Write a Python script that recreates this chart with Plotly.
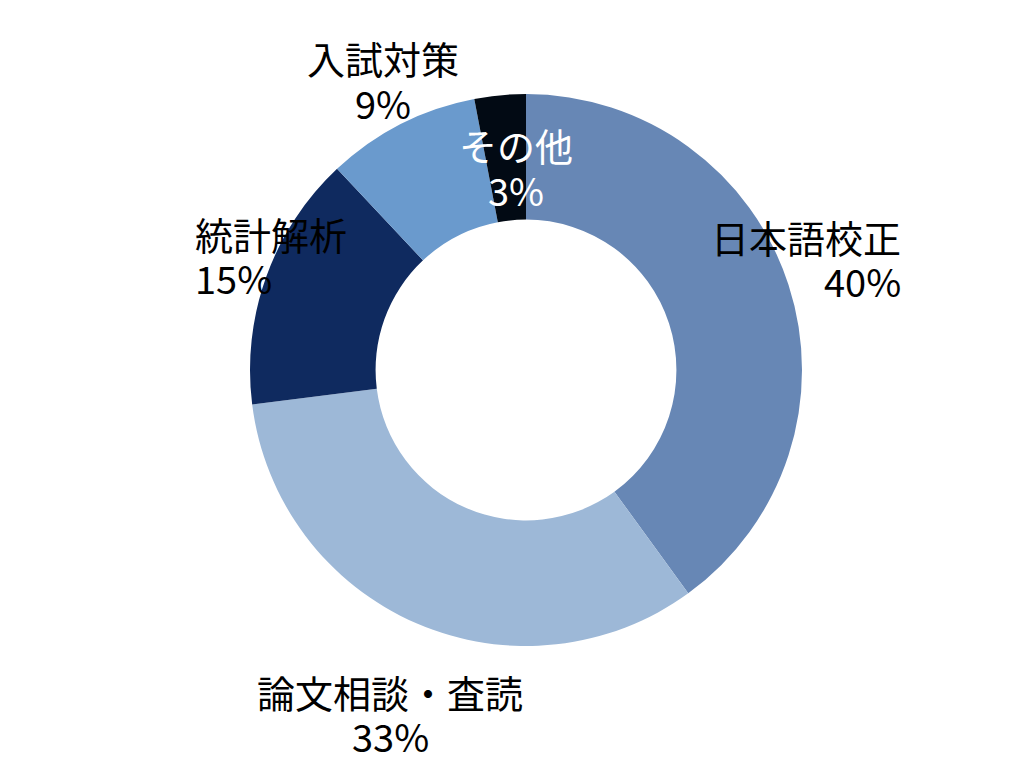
import plotly.graph_objects as go

labels = ["日本語校正", "論文相談・査読", "統計解析", "入試対策", "その他"]
values = [40, 33, 15, 9, 3]
colors = ["#6787B5", "#9DB8D7", "#0F2A5F", "#6A9ACD", "#020A14"]
label_pos = [(895, 228), (382, 683), (185, 225), (375, 50), (508, 137)]
label_colors = ["black", "black", "black", "black", "white"]

W, H = 1024, 768
fig = go.Figure(go.Pie(
    labels=labels, values=values, hole=0.545, sort=False, direction="clockwise",
    rotation=0, marker=dict(colors=colors), textinfo="none", hoverinfo="label+percent",
    domain=dict(x=[242/W, 794/W], y=[(H-638)/H, (H-86)/H]), showlegend=False))

for lab, v, (x, y), c in zip(labels, values, label_pos, label_colors):
    f = dict(size=38, color=c, family="Noto Sans CJK JP")
    fig.add_annotation(x=x/W, y=1-y/H, xref="paper", yref="paper", showarrow=False,
                       text=lab, font=f, yanchor="middle")
    fig.add_annotation(x=x/W, y=1-(y+44)/H, xref="paper", yref="paper", showarrow=False,
                       text=f"{v}%", font=f, yanchor="middle")

fig.update_layout(width=W, height=H, margin=dict(l=0, r=0, t=0, b=0),
                  paper_bgcolor="white", plot_bgcolor="white")
fig.write_html("out.html")
